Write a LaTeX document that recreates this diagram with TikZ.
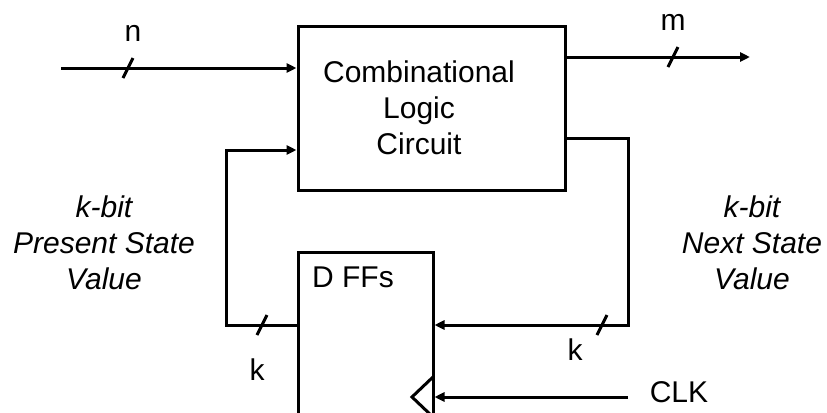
\documentclass[tikz,border=0pt]{standalone}
\usepackage{fontspec}
\setmainfont{Liberation Sans}
\usetikzlibrary{arrows.meta}
\begin{document}
\begin{tikzpicture}[x=0.5pt,y=-0.5pt,
  wire/.style={line width=1.5pt},
  arr/.style={wire,-{Triangle[length=5pt,width=4.5pt]}},
  blk/.style={draw,line width=1.5pt,inner sep=0pt},
  lbl/.style={font=\fontsize{15}{18}\selectfont,inner sep=0pt},
  ilbl/.style={font=\fontsize{15}{18}\selectfont\itshape,align=center,inner sep=0pt},
  busmark/.style={line width=1.5pt}]
\useasboundingbox (0,0) rectangle (827,413);
\clip (0,0) rectangle (827,413);
\node[blk,minimum width=133.5pt,minimum height=82pt] (comb) at (431.5,108) {};
\node[lbl,align=center] (combt) at (419,108) {Combinational\\Logic\\Circuit};
\node[blk,minimum width=67.5pt,minimum height=109pt] (dff) at (365.5,361) {};
\node[lbl] (dfft) at (353,277) {D FFs};
% clock triangle
\coordinate (ta) at (433,377);
\coordinate (tb) at (412,397);
\coordinate (tc) at (433,417);
\draw[wire] (ta) -- (tb) -- (tc);
% input n
\coordinate (inS) at (61,68);
\draw[arr] (inS) -- (inS -| comb.west);
\draw[busmark] (123,78) -- (133,58);
\node[lbl] (nl) at (133,33) {n};
% output m
\coordinate (outE) at (750,57);
\draw[arr] (outE -| comb.east) -- (outE);
\draw[busmark] (668,67) -- (678,47);
\node[lbl] (ml) at (673,22) {m};
% next state feedback
\coordinate (nr) at (628,138);
\coordinate (nb) at (628,325);
\draw[arr] (nr -| comb.east) -- (nr) -- (nb) -- (nb -| dff.east);
\draw[busmark] (597,335) -- (607,315);
\node[lbl] (k2) at (575,350) {k};
% present state feedback
\coordinate (pb) at (226,325);
\coordinate (pt) at (226,150);
\draw[arr] (pb -| dff.west) -- (pb) -- (pt) -- (pt -| comb.west);
\draw[busmark] (257,335) -- (267,315);
\node[lbl] (k1) at (257,370) {k};
% clock
\coordinate (ck) at (628,397);
\draw[arr] (ck) -- (ck -| dff.east);
\node[lbl] (clkl) at (679,392) {CLK};
% side labels
\node[ilbl] (psl) at (104,243) {k-bit\\Present State\\Value};
\node[ilbl] (nsl) at (752,243) {k-bit\\Next State\\Value};
\end{tikzpicture}
\end{document}
